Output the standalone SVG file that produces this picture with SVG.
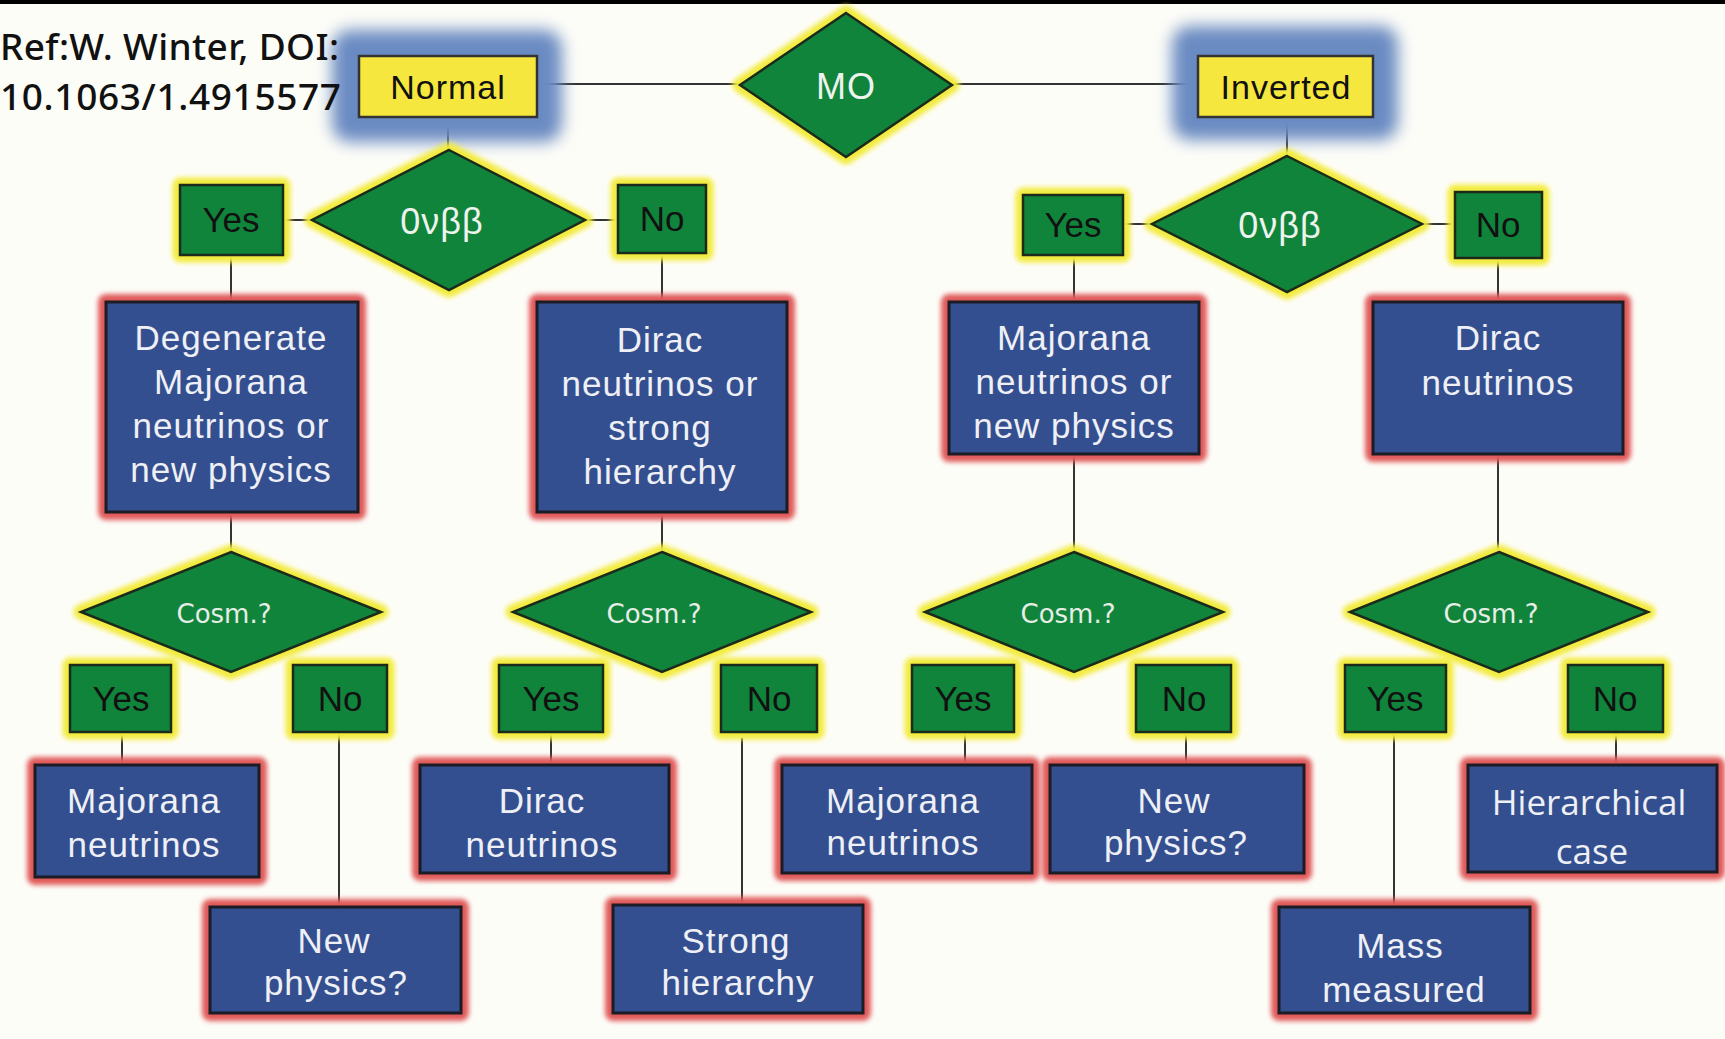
<svg xmlns="http://www.w3.org/2000/svg" width="1725" height="1039" viewBox="0 0 1725 1039">
<defs>
<filter id="b2" x="-20%" y="-20%" width="140%" height="140%"><feGaussianBlur stdDeviation="2.5"/></filter>
<filter id="b9" x="-40%" y="-60%" width="180%" height="220%"><feGaussianBlur stdDeviation="8"/></filter>
</defs>
<style>
.ln{stroke:#333;stroke-width:2;fill:none}
.yg{fill:#f3eb3e;stroke:#f3eb3e;stroke-width:15;stroke-linejoin:round;filter:url(#b2)}
.rg{fill:#e05a5a;stroke:#e05a5a;stroke-width:16;stroke-linejoin:round;filter:url(#b2)}
.bg{fill:#6a8bc2;filter:url(#b9)}
.g{fill:#11843c;stroke:#1b2a1b;stroke-width:2.5}
.b{fill:#344f8f;stroke:#1c1c24;stroke-width:3}
.y{fill:#f6e73e;stroke:#333;stroke-width:2.5}
.t{font-family:"Liberation Sans",Arial,sans-serif;text-anchor:middle}
.k{font-size:35px;fill:#111}
.w{font-size:35px;fill:#eef0f6;letter-spacing:1px}
.h{font-size:34px;fill:#111;letter-spacing:1px}
.gw{font-size:36px;fill:#eef3ee;letter-spacing:1px}
.c{font-family:"DejaVu Sans",sans-serif;font-size:26px;fill:#e6eee6;text-anchor:middle}
.o{font-family:"Open Sans",sans-serif;font-size:35px;fill:#eef0f6;text-anchor:middle}
.ref{font-family:"Noto Sans","Liberation Sans",sans-serif;font-size:37px;font-weight:500;fill:#111}
</style>
<rect x="0" y="0" width="1725" height="1039" fill="#fdfdf8"/>
<rect x="0" y="0" width="1725" height="4" fill="#000"/>
<g id="connectors">
<line class="ln" x1="537" y1="84" x2="740" y2="84"/>
<line class="ln" x1="952" y1="84" x2="1198" y2="84"/>
<line class="ln" x1="448" y1="117" x2="448" y2="150"/>
<line class="ln" x1="1287" y1="117" x2="1287" y2="156"/>
<line class="ln" x1="283" y1="220" x2="312" y2="220"/>
<line class="ln" x1="585" y1="220" x2="618" y2="220"/>
<line class="ln" x1="1123" y1="224" x2="1152" y2="224"/>
<line class="ln" x1="1422" y1="224" x2="1455" y2="224"/>
<line class="ln" x1="231" y1="255" x2="231" y2="302"/>
<line class="ln" x1="662" y1="253" x2="662" y2="302"/>
<line class="ln" x1="1074" y1="255" x2="1074" y2="302"/>
<line class="ln" x1="1498" y1="258" x2="1498" y2="302"/>
<line class="ln" x1="231" y1="512" x2="231" y2="552"/>
<line class="ln" x1="662" y1="512" x2="662" y2="552"/>
<line class="ln" x1="1074" y1="454" x2="1074" y2="552"/>
<line class="ln" x1="1498" y1="454" x2="1498" y2="552"/>
<line class="ln" x1="122" y1="732" x2="122" y2="765"/>
<line class="ln" x1="339" y1="732" x2="339" y2="907"/>
<line class="ln" x1="551" y1="732" x2="551" y2="765"/>
<line class="ln" x1="742" y1="738" x2="742" y2="905"/>
<line class="ln" x1="965" y1="732" x2="965" y2="765"/>
<line class="ln" x1="1186" y1="732" x2="1186" y2="765"/>
<line class="ln" x1="1394" y1="732" x2="1394" y2="907"/>
<line class="ln" x1="1616" y1="732" x2="1616" y2="765"/>
</g>
<g id="n-normal">
<rect class="bg" x="332" y="30" width="230" height="112" rx="18"/>
<rect class="y" x="359" y="56" width="178" height="61"/>
<text class="t h" x="448" y="99">Normal</text>
</g>
<g id="n-mo">
<polygon class="yg" points="846,13 952,85 846,157 740,85"/>
<polygon class="g" points="846,13 952,85 846,157 740,85"/>
<text class="t gw" x="846" y="99">MO</text>
</g>
<g id="n-inverted">
<rect class="bg" x="1172" y="26" width="226" height="114" rx="18"/>
<rect class="y" x="1198" y="56" width="175" height="61"/>
<text class="t h" x="1286" y="99">Inverted</text>
</g>
<g id="n-0vbb-left">
<polygon class="yg" points="449,150 585,220 449,290 312,220"/>
<polygon class="g" points="449,150 585,220 449,290 312,220"/>
<text class="t gw" x="442" y="234">0νββ</text>
</g>
<g id="n-yes-left">
<rect class="yg" x="180" y="185" width="103" height="70"/>
<rect class="g" x="180" y="185" width="103" height="70"/>
<text class="t k" x="231" y="232">Yes</text>
</g>
<g id="n-no-left">
<rect class="yg" x="618" y="185" width="88" height="68"/>
<rect class="g" x="618" y="185" width="88" height="68"/>
<text class="t k" x="662" y="231">No</text>
</g>
<g id="n-0vbb-right">
<polygon class="yg" points="1287,156 1422,224 1287,292 1152,224"/>
<polygon class="g" points="1287,156 1422,224 1287,292 1152,224"/>
<text class="t gw" x="1280" y="238">0νββ</text>
</g>
<g id="n-yes-right">
<rect class="yg" x="1023" y="195" width="100" height="60"/>
<rect class="g" x="1023" y="195" width="100" height="60"/>
<text class="t k" x="1073" y="237">Yes</text>
</g>
<g id="n-no-right">
<rect class="yg" x="1455" y="192" width="87" height="66"/>
<rect class="g" x="1455" y="192" width="87" height="66"/>
<text class="t k" x="1498" y="237">No</text>
</g>
<g id="n-degenerate">
<rect class="rg" x="106" y="302" width="252" height="210"/>
<rect class="b" x="106" y="302" width="252" height="210"/>
<text class="t w" x="231" y="350">Degenerate</text>
<text class="t w" x="231" y="394">Majorana</text>
<text class="t w" x="231" y="438">neutrinos or</text>
<text class="t w" x="231" y="482">new physics</text>
</g>
<g id="n-dirac-strong">
<rect class="rg" x="537" y="302" width="250" height="210"/>
<rect class="b" x="537" y="302" width="250" height="210"/>
<text class="t w" x="660" y="352">Dirac</text>
<text class="t w" x="660" y="396">neutrinos or</text>
<text class="t w" x="660" y="440">strong</text>
<text class="t w" x="660" y="484">hierarchy</text>
</g>
<g id="n-majorana-np">
<rect class="rg" x="949" y="302" width="250" height="152"/>
<rect class="b" x="949" y="302" width="250" height="152"/>
<text class="t w" x="1074" y="350">Majorana</text>
<text class="t w" x="1074" y="394">neutrinos or</text>
<text class="t w" x="1074" y="438">new physics</text>
</g>
<g id="n-dirac-nu">
<rect class="rg" x="1373" y="302" width="250" height="152"/>
<rect class="b" x="1373" y="302" width="250" height="152"/>
<text class="t w" x="1498" y="350">Dirac</text>
<text class="t w" x="1498" y="395">neutrinos</text>
</g>
<g id="n-cosm-1">
<polygon class="yg" points="231,552 381,612 231,672 81,612"/>
<polygon class="g" points="231,552 381,612 231,672 81,612"/>
<text class="c" x="224" y="623">Cosm.?</text>
</g>
<g id="n-cosm-2">
<polygon class="yg" points="662,552 811,612 662,672 513,612"/>
<polygon class="g" points="662,552 811,612 662,672 513,612"/>
<text class="c" x="654" y="623">Cosm.?</text>
</g>
<g id="n-cosm-3">
<polygon class="yg" points="1074,552 1223,612 1074,672 925,612"/>
<polygon class="g" points="1074,552 1223,612 1074,672 925,612"/>
<text class="c" x="1068" y="623">Cosm.?</text>
</g>
<g id="n-cosm-4">
<polygon class="yg" points="1499,552 1648,612 1499,672 1350,612"/>
<polygon class="g" points="1499,552 1648,612 1499,672 1350,612"/>
<text class="c" x="1491" y="623">Cosm.?</text>
</g>
<g id="n-c1-yes">
<rect class="yg" x="70" y="665" width="101" height="67"/>
<rect class="g" x="70" y="665" width="101" height="67"/>
<text class="t k" x="121" y="711">Yes</text>
</g>
<g id="n-c1-no">
<rect class="yg" x="293" y="665" width="94" height="67"/>
<rect class="g" x="293" y="665" width="94" height="67"/>
<text class="t k" x="340" y="711">No</text>
</g>
<g id="n-c2-yes">
<rect class="yg" x="499" y="665" width="104" height="67"/>
<rect class="g" x="499" y="665" width="104" height="67"/>
<text class="t k" x="551" y="711">Yes</text>
</g>
<g id="n-c2-no">
<rect class="yg" x="721" y="665" width="96" height="67"/>
<rect class="g" x="721" y="665" width="96" height="67"/>
<text class="t k" x="769" y="711">No</text>
</g>
<g id="n-c3-yes">
<rect class="yg" x="912" y="665" width="102" height="67"/>
<rect class="g" x="912" y="665" width="102" height="67"/>
<text class="t k" x="963" y="711">Yes</text>
</g>
<g id="n-c3-no">
<rect class="yg" x="1136" y="665" width="95" height="67"/>
<rect class="g" x="1136" y="665" width="95" height="67"/>
<text class="t k" x="1184" y="711">No</text>
</g>
<g id="n-c4-yes">
<rect class="yg" x="1345" y="665" width="101" height="67"/>
<rect class="g" x="1345" y="665" width="101" height="67"/>
<text class="t k" x="1395" y="711">Yes</text>
</g>
<g id="n-c4-no">
<rect class="yg" x="1568" y="665" width="95" height="67"/>
<rect class="g" x="1568" y="665" width="95" height="67"/>
<text class="t k" x="1615" y="711">No</text>
</g>
<g id="n-leaf-majorana-1">
<rect class="rg" x="35" y="765" width="224" height="112"/>
<rect class="b" x="35" y="765" width="224" height="112"/>
<text class="t w" x="144" y="813">Majorana</text>
<text class="t w" x="144" y="857">neutrinos</text>
</g>
<g id="n-leaf-newphys-1">
<rect class="rg" x="210" y="907" width="251" height="106"/>
<rect class="b" x="210" y="907" width="251" height="106"/>
<text class="t w" x="334" y="953">New</text>
<text class="t w" x="336" y="995">physics?</text>
</g>
<g id="n-leaf-dirac">
<rect class="rg" x="420" y="765" width="249" height="108"/>
<rect class="b" x="420" y="765" width="249" height="108"/>
<text class="t w" x="542" y="813">Dirac</text>
<text class="t w" x="542" y="857">neutrinos</text>
</g>
<g id="n-leaf-strong">
<rect class="rg" x="613" y="905" width="250" height="108"/>
<rect class="b" x="613" y="905" width="250" height="108"/>
<text class="t w" x="736" y="953">Strong</text>
<text class="t w" x="738" y="995">hierarchy</text>
</g>
<g id="n-leaf-majorana-2">
<rect class="rg" x="782" y="765" width="250" height="108"/>
<rect class="b" x="782" y="765" width="250" height="108"/>
<text class="t w" x="903" y="813">Majorana</text>
<text class="t w" x="903" y="855">neutrinos</text>
</g>
<g id="n-leaf-newphys-2">
<rect class="rg" x="1050" y="765" width="254" height="108"/>
<rect class="b" x="1050" y="765" width="254" height="108"/>
<text class="t w" x="1174" y="813">New</text>
<text class="t w" x="1176" y="855">physics?</text>
</g>
<g id="n-leaf-mass">
<rect class="rg" x="1279" y="907" width="251" height="106"/>
<rect class="b" x="1279" y="907" width="251" height="106"/>
<text class="t w" x="1400" y="958">Mass</text>
<text class="t w" x="1404" y="1002">measured</text>
</g>
<g id="n-leaf-hierarchical">
<rect class="rg" x="1468" y="765" width="249" height="107"/>
<rect class="b" x="1468" y="765" width="249" height="107"/>
<text class="o" x="1589" y="815">Hierarchical</text>
<text class="o" x="1592" y="864">case</text>
</g>
<g id="ref">
<text class="ref" x="0" y="60" textLength="339">Ref:W. Winter, DOI:</text>
<text class="ref" x="0" y="110" textLength="341">10.1063/1.4915577</text>
</g>
</svg>
